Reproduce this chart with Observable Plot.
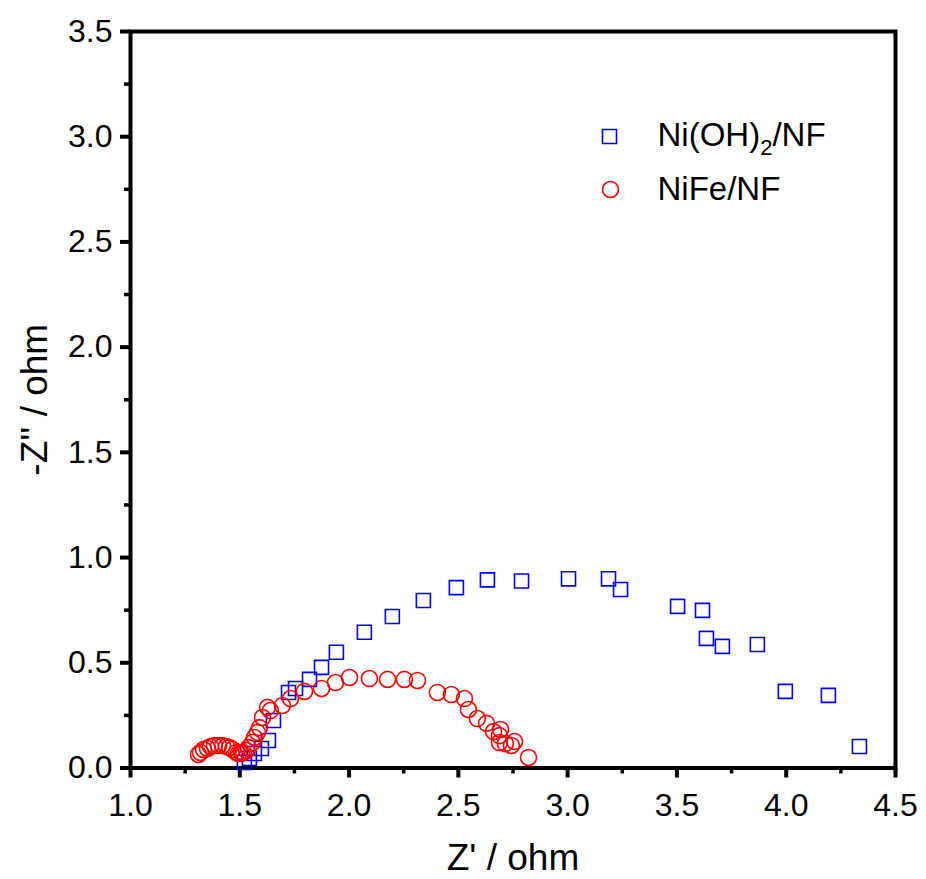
<!DOCTYPE html>
<html><head><meta charset="utf-8">
<script src="https://cdn.jsdelivr.net/npm/d3@7"></script>
<script src="https://cdn.jsdelivr.net/npm/@observablehq/plot@0.6"></script>
<style>body{margin:0;background:#fff;}</style>
</head><body><div id="chart"></div>
<script>
const seriesNames = ["Ni(OH)2/NF", "NiFe/NF"];
const niohX = [1.521,1.544,1.567,1.599,1.631,1.654,1.723,1.755,1.819,1.874,1.942,2.070,2.198,2.340,2.491,2.633,2.789,3.004,3.187,3.242,3.503,3.617,3.635,3.708,3.868,3.996,4.193,4.335];
const niohY = [0.026,0.045,0.069,0.093,0.131,0.226,0.359,0.378,0.421,0.478,0.550,0.645,0.720,0.796,0.857,0.894,0.889,0.899,0.899,0.848,0.768,0.749,0.616,0.578,0.587,0.364,0.345,0.102];
const nifeX = [1.311,1.320,1.334,1.352,1.366,1.384,1.403,1.421,1.439,1.453,1.467,1.485,1.494,1.508,1.517,1.531,1.540,1.558,1.567,1.581,1.590,1.604,1.627,1.640,1.695,1.732,1.796,1.874,1.938,2.002,2.093,2.176,2.253,2.313,2.404,2.468,2.528,2.546,2.587,2.629,2.661,2.693,2.688,2.688,2.715,2.757,2.743,2.821];
const nifeY = [0.064,0.074,0.088,0.093,0.102,0.107,0.107,0.107,0.102,0.097,0.088,0.074,0.069,0.069,0.074,0.083,0.097,0.121,0.145,0.169,0.192,0.240,0.288,0.273,0.297,0.330,0.364,0.378,0.406,0.430,0.425,0.421,0.421,0.416,0.359,0.349,0.330,0.278,0.235,0.212,0.173,0.183,0.154,0.121,0.116,0.126,0.107,0.050];
const xTicks = [1.0,1.5,2.0,2.5,3.0,3.5,4.0,4.5];
const xMinor = [1.25,1.75,2.25,2.75,3.25,3.75,4.25];
const yTicks = [0.0,0.5,1.0,1.5,2.0,2.5,3.0,3.5];
const yMinor = [0.25,0.75,1.25,1.75,2.25,2.75,3.25];
const xLabel = "Z' / ohm";
const yLabel = "-Z'' / ohm";

const nioh = niohX.map((x, i) => ({x, y: niohY[i]}));
const nife = nifeX.map((x, i) => ({x, y: nifeY[i]}));
const fmt = d3.format(".1f");
const FONT = "'Liberation Sans', Arial, Helvetica, sans-serif";

const chart = Plot.plot({
  width: 926, height: 879,
  marginLeft: 130, marginRight: 31, marginTop: 31, marginBottom: 111.5,
  x: {domain: [1, 4.5], label: null},
  y: {domain: [0, 3.5], label: null},
  style: {fontFamily: FONT, fontSize: "32px", color: "black", background: "white", overflow: "visible"},
  marks: [
    Plot.axisX(xMinor, {tickSize: 6, strokeWidth: 3.5, tickFormat: () => "", label: null}),
    Plot.axisX(xTicks, {tickSize: 10, strokeWidth: 4, tickPadding: 15, tickFormat: fmt, label: null, fontSize: 32}),
    Plot.axisY(yMinor, {tickSize: 6, strokeWidth: 3.5, tickFormat: () => "", label: null}),
    Plot.axisY(yTicks, {tickSize: 10, strokeWidth: 4, tickPadding: 8, tickFormat: fmt, label: null, fontSize: 32}),
    Plot.frame({stroke: "black", strokeWidth: 4}),
    Plot.dot(nioh, {x: "x", y: "y", symbol: "square", r: 7.9, stroke: "#0000ff", strokeWidth: 1.6, fill: "none"}),
    Plot.dot(nife, {x: "x", y: "y", symbol: "circle", r: 8, stroke: "#ff0000", strokeWidth: 1.6, fill: "none"}),
    Plot.dot([seriesNames[0]], {frameAnchor: "top-left", dx: 479, dy: 105, symbol: "square", r: 7.9, stroke: "#0000ff", strokeWidth: 1.6, fill: "none"}),
    Plot.dot([seriesNames[1]], {frameAnchor: "top-left", dx: 480, dy: 158, symbol: "circle", r: 8, stroke: "#ff0000", strokeWidth: 1.6, fill: "none"}),
    Plot.text([seriesNames[0]], {frameAnchor: "top-left", dx: 527, dy: 104, text: d => d, textAnchor: "start", lineAnchor: "middle", fontSize: 33, fill: "black"}),
    Plot.text([seriesNames[1]], {frameAnchor: "top-left", dx: 527, dy: 158, text: d => d, textAnchor: "start", lineAnchor: "middle", fontSize: 33, fill: "black"}),
    Plot.text([xLabel], {frameAnchor: "bottom", dy: 90, text: d => d, textAnchor: "middle", lineAnchor: "middle", fontSize: 37, fill: "black"}),
    Plot.text([yLabel], {frameAnchor: "left", dx: -95, rotate: -90, text: d => d, textAnchor: "middle", lineAnchor: "middle", fontSize: 37, fill: "black"})
  ]
});
document.getElementById("chart").appendChild(chart);
// subscript in legend label
chart.querySelectorAll("text").forEach(t => {
  if (t.textContent === seriesNames[0]) {
    t.textContent = "";
    const ns = "http://www.w3.org/2000/svg";
    const a = document.createElementNS(ns, "tspan"); a.textContent = "Ni(OH)";
    const b = document.createElementNS(ns, "tspan"); b.textContent = "2"; b.setAttribute("font-size", "22"); b.setAttribute("dy", "9");
    const c = document.createElementNS(ns, "tspan"); c.textContent = "/NF"; c.setAttribute("dy", "-9");
    t.append(a, b, c);
  }
});
</script>
</body></html>
